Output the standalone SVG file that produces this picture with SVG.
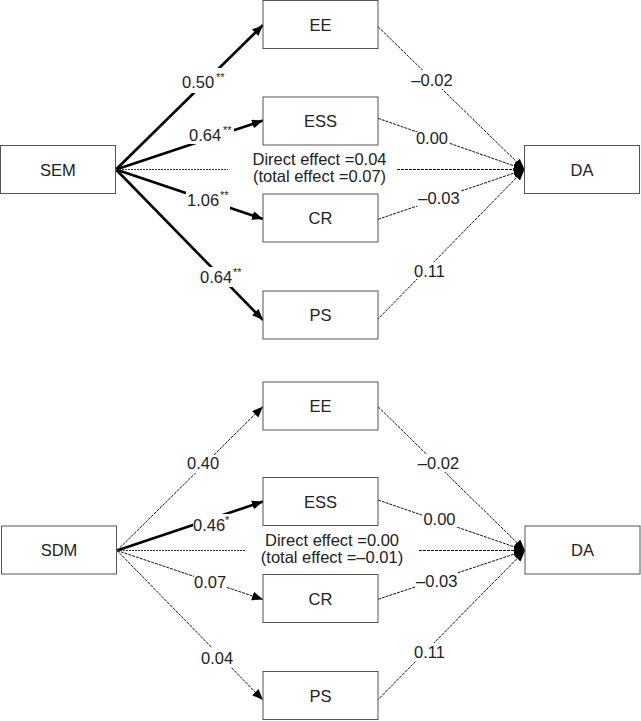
<svg xmlns="http://www.w3.org/2000/svg" width="641" height="721" viewBox="0 0 641 721">
<style>
.box{fill:#fff;stroke:#555;stroke-width:1}
.t{font-family:"Liberation Sans",Arial,sans-serif;font-size:16.5px;fill:#222}
.c{text-anchor:middle}
.sup{font-family:"Liberation Sans",Arial,sans-serif;font-size:11px;fill:#222}
.thick{stroke:#000;stroke-width:2.6;fill:none;marker-end:url(#ah)}
.thin{stroke:#111;stroke-width:1;stroke-dasharray:3,1;fill:none;marker-end:url(#ah2)}
.dline{stroke:#333;stroke-width:1;stroke-dasharray:2,1;fill:none}
.bg{fill:#fff}
</style>
<defs>
<marker id="ah" markerUnits="userSpaceOnUse" markerWidth="12" markerHeight="10" refX="11" refY="4.5" orient="auto"><path d="M0,0 L11,4.5 L0,9 z" fill="#000"/></marker>
<marker id="ah2" markerUnits="userSpaceOnUse" markerWidth="12" markerHeight="10" refX="11" refY="4.5" orient="auto"><path d="M0,0 L11,4.5 L0,9 z" fill="#000"/></marker>
</defs>

<g id="connectors">
<!-- top panel -->
<path class="thick" d="M116,169.5 L263,25"/>
<path class="thick" d="M116,169.5 L263,120.5"/>
<path class="thick" d="M116,169.5 L263,219"/>
<path class="thick" d="M116,169.5 L263,320"/>
<path class="thin" d="M378,26.7 L524.5,169.5"/>
<path class="thin" d="M378,118.3 L524.5,169.5"/>
<path class="thin" d="M378,219.3 L524.5,169.5"/>
<path class="thin" d="M377,320 L524.5,169.5"/>
<path class="dline" d="M116,169.5 L228,169.5"/>
<path class="thin" d="M397,169.5 L524.5,169.5"/>
<!-- bottom panel -->
<path class="thin" d="M117,550.5 L263,406.5"/>
<path class="thick" d="M117,550.5 L263,501.5"/>
<path class="thin" d="M117,550.5 L263,599.5"/>
<path class="thin" d="M117,550.5 L263,700"/>
<path class="thin" d="M378,406.7 L525,550.5"/>
<path class="thin" d="M378,500 L525,550.5"/>
<path class="thin" d="M378,599.3 L525,550.5"/>
<path class="thin" d="M377,700.7 L525,550.5"/>
<path class="dline" d="M117,550.5 L245,550.5"/>
<path class="thin" d="M419,550.5 L525,550.5"/>
</g>

<g id="labels">
<!-- top left -->
<rect class="bg" x="179" y="68" width="52" height="25"/>
<text class="t" x="182" y="88">0.50</text><text class="sup" x="216" y="81">**</text>
<rect class="bg" x="189" y="127" width="45" height="17"/>
<text class="t" x="189" y="141">0.64</text><text class="sup" x="223" y="134">**</text>
<rect class="bg" x="186" y="192" width="44" height="17"/>
<text class="t" x="187" y="206">1.06</text><text class="sup" x="220" y="199">**</text>
<rect class="bg" x="200" y="267" width="44" height="20"/>
<text class="t" x="200" y="283">0.64</text><text class="sup" x="233" y="276">**</text>
<!-- top right -->
<rect class="bg" x="411" y="70" width="43" height="19"/>
<text class="t c" x="432" y="86">–0.02</text>
<rect class="bg" x="414" y="132" width="35" height="14"/>
<text class="t c" x="432" y="144">0.00</text>
<rect class="bg" x="417" y="191" width="44" height="15"/>
<text class="t c" x="439" y="204">–0.03</text>
<rect class="bg" x="413" y="262" width="33" height="17"/>
<text class="t c" x="429.5" y="277">0.11</text>
<text class="t c" x="319.5" y="165">Direct effect =0.04</text>
<text class="t c" x="319.5" y="182">(total effect =0.07)</text>
<!-- bottom left -->
<rect class="bg" x="186" y="455" width="36" height="18"/>
<text class="t" x="187" y="469">0.40</text>
<rect class="bg" x="193" y="514" width="37" height="19"/>
<text class="t" x="193" y="531">0.46</text><text class="sup" x="225" y="524">*</text>
<rect class="bg" x="194" y="574" width="33" height="16"/>
<text class="t" x="194" y="588">0.07</text>
<rect class="bg" x="200" y="648" width="34" height="19"/>
<text class="t" x="201" y="664">0.04</text>
<!-- bottom right -->
<rect class="bg" x="419" y="454" width="38" height="18"/>
<text class="t c" x="438.5" y="469">–0.02</text>
<rect class="bg" x="422" y="511" width="35" height="16"/>
<text class="t c" x="439.5" y="525">0.00</text>
<rect class="bg" x="416" y="572" width="41" height="17"/>
<text class="t c" x="436.7" y="587">–0.03</text>
<rect class="bg" x="413" y="643" width="33" height="18"/>
<text class="t c" x="429.5" y="658">0.11</text>
<text class="t c" x="332" y="546">Direct effect =0.00</text>
<text class="t c" x="332" y="563">(total effect =–0.01)</text>
</g>

<g id="SEM"><rect class="box" x="0.5" y="145.5" width="115" height="48"/><text class="t c" x="58" y="175.5">SEM</text></g>
<g id="EE1"><rect class="box" x="263" y="0.5" width="115" height="48"/><text class="t c" x="320.5" y="30.5">EE</text></g>
<g id="ESS1"><rect class="box" x="263" y="97" width="115" height="48"/><text class="t c" x="320.5" y="127">ESS</text></g>
<g id="CR1"><rect class="box" x="263" y="194" width="115" height="48"/><text class="t c" x="320.5" y="224">CR</text></g>
<g id="PS1"><rect class="box" x="263" y="291" width="115" height="48"/><text class="t c" x="320.5" y="321">PS</text></g>
<g id="DA1"><rect class="box" x="524.5" y="145.5" width="115" height="48"/><text class="t c" x="582" y="175.5">DA</text></g>

<g id="SDM"><rect class="box" x="1.5" y="526" width="115" height="48"/><text class="t c" x="59" y="556">SDM</text></g>
<g id="EE2"><rect class="box" x="263" y="382" width="115" height="48"/><text class="t c" x="320.5" y="412">EE</text></g>
<g id="ESS2"><rect class="box" x="263" y="477.5" width="115" height="48"/><text class="t c" x="320.5" y="507.5">ESS</text></g>
<g id="CR2"><rect class="box" x="263" y="574.5" width="115" height="48"/><text class="t c" x="320.5" y="604.5">CR</text></g>
<g id="PS2"><rect class="box" x="263" y="671.5" width="115" height="48"/><text class="t c" x="320.5" y="701.5">PS</text></g>
<g id="DA2"><rect class="box" x="525" y="526" width="115" height="48"/><text class="t c" x="582.5" y="556">DA</text></g>
</svg>
